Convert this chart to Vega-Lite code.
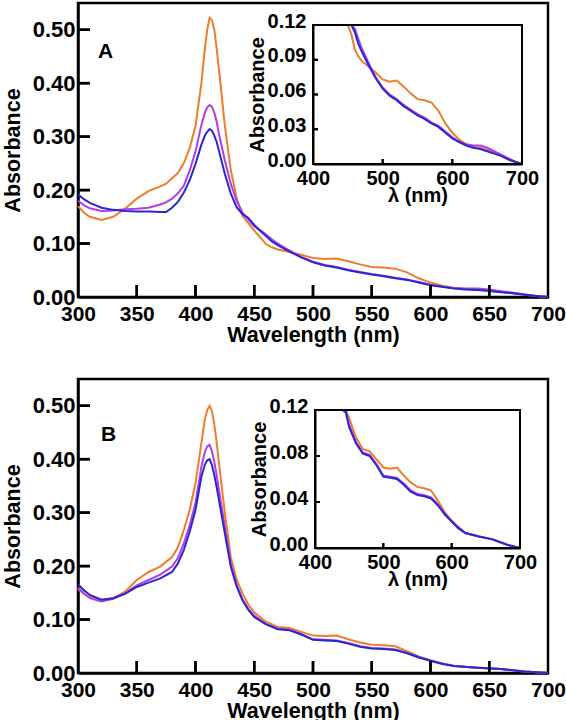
{
"$schema": "https://vega.github.io/schema/vega-lite/v6.json",
"padding": {"left": 0, "top": 1, "right": 0, "bottom": 0},
"bounds": "flush",
"spacing": 82,
"background": "white",
"datasets": {
"xt": [{"v": 350},{"v": 400},{"v": 450},{"v": 500},{"v": 550},{"v": 600},{"v": 650}],
"yt": [{"v": 0.1},{"v": 0.2},{"v": 0.3},{"v": 0.4},{"v": 0.5}],
"ixt": [{"v": 500},{"v": 600}],
"iytA": [{"v": 0.03},{"v": 0.06},{"v": 0.09}],
"iytB": [{"v": 0.04},{"v": 0.08}]
},
"data": {"values": [
{"p":"A","w":300,"o":0.170,"m":0.180,"b":0.192},
{"p":"A","w":305,"o":0.158,"m":0.172,"b":0.183},
{"p":"A","w":310,"o":0.150,"m":0.166,"b":0.176},
{"p":"A","w":320,"o":0.144,"m":0.161,"b":0.167},
{"p":"A","w":330,"o":0.150,"m":0.162,"b":0.163},
{"p":"A","w":340,"o":0.165,"m":0.164,"b":0.161},
{"p":"A","w":350,"o":0.184,"m":0.165,"b":0.160},
{"p":"A","w":360,"o":0.198,"m":0.167,"b":0.160},
{"p":"A","w":370,"o":0.207,"m":0.173,"b":0.159},
{"p":"A","w":375,"o":0.212,"m":0.177,"b":0.159},
{"p":"A","w":380,"o":0.222,"m":0.184,"b":0.167},
{"p":"A","w":385,"o":0.232,"m":0.194,"b":0.178},
{"p":"A","w":390,"o":0.250,"m":0.208,"b":0.195},
{"p":"A","w":395,"o":0.278,"m":0.236,"b":0.218},
{"p":"A","w":400,"o":0.320,"m":0.272,"b":0.249},
{"p":"A","w":405,"o":0.400,"m":0.322,"b":0.285},
{"p":"A","w":408,"o":0.465,"m":0.345,"b":0.302},
{"p":"A","w":410,"o":0.500,"m":0.355,"b":0.309},
{"p":"A","w":412,"o":0.522,"m":0.359,"b":0.314},
{"p":"A","w":414,"o":0.518,"m":0.356,"b":0.311},
{"p":"A","w":416,"o":0.500,"m":0.345,"b":0.302},
{"p":"A","w":418,"o":0.465,"m":0.328,"b":0.290},
{"p":"A","w":420,"o":0.425,"m":0.305,"b":0.273},
{"p":"A","w":425,"o":0.320,"m":0.255,"b":0.230},
{"p":"A","w":430,"o":0.238,"m":0.212,"b":0.194},
{"p":"A","w":435,"o":0.185,"m":0.180,"b":0.168},
{"p":"A","w":440,"o":0.152,"m":0.158,"b":0.155},
{"p":"A","w":445,"o":0.138,"m":0.145,"b":0.148},
{"p":"A","w":450,"o":0.124,"m":0.132,"b":0.135},
{"p":"A","w":455,"o":0.112,"m":0.125,"b":0.124},
{"p":"A","w":460,"o":0.099,"m":0.117,"b":0.114},
{"p":"A","w":465,"o":0.093,"m":0.108,"b":0.104},
{"p":"A","w":470,"o":0.089,"m":0.100,"b":0.097},
{"p":"A","w":480,"o":0.084,"m":0.087,"b":0.085},
{"p":"A","w":490,"o":0.079,"m":0.075,"b":0.074},
{"p":"A","w":500,"o":0.073,"m":0.066,"b":0.065},
{"p":"A","w":510,"o":0.071,"m":0.060,"b":0.059},
{"p":"A","w":520,"o":0.072,"m":0.056,"b":0.055},
{"p":"A","w":530,"o":0.067,"m":0.051,"b":0.050},
{"p":"A","w":540,"o":0.061,"m":0.047,"b":0.046},
{"p":"A","w":550,"o":0.056,"m":0.043,"b":0.042},
{"p":"A","w":560,"o":0.055,"m":0.040,"b":0.039},
{"p":"A","w":570,"o":0.053,"m":0.036,"b":0.035},
{"p":"A","w":580,"o":0.046,"m":0.033,"b":0.032},
{"p":"A","w":590,"o":0.035,"m":0.028,"b":0.027},
{"p":"A","w":600,"o":0.027,"m":0.023,"b":0.022},
{"p":"A","w":610,"o":0.021,"m":0.019,"b":0.019},
{"p":"A","w":620,"o":0.017,"m":0.017,"b":0.016},
{"p":"A","w":630,"o":0.015,"m":0.016,"b":0.014},
{"p":"A","w":640,"o":0.014,"m":0.016,"b":0.013},
{"p":"A","w":650,"o":0.012,"m":0.014,"b":0.011},
{"p":"A","w":660,"o":0.010,"m":0.011,"b":0.009},
{"p":"A","w":670,"o":0.007,"m":0.008,"b":0.007},
{"p":"A","w":680,"o":0.004,"m":0.005,"b":0.004},
{"p":"A","w":690,"o":0.002,"m":0.002,"b":0.002},
{"p":"A","w":700,"o":0.000,"m":0.000,"b":0.000},
{"p":"B","w":300,"o":0.157,"m":0.160,"b":0.166},
{"p":"B","w":305,"o":0.148,"m":0.149,"b":0.155},
{"p":"B","w":310,"o":0.142,"m":0.140,"b":0.146},
{"p":"B","w":320,"o":0.137,"m":0.134,"b":0.137},
{"p":"B","w":330,"o":0.140,"m":0.139,"b":0.140},
{"p":"B","w":340,"o":0.152,"m":0.149,"b":0.148},
{"p":"B","w":350,"o":0.174,"m":0.164,"b":0.161},
{"p":"B","w":360,"o":0.189,"m":0.174,"b":0.169},
{"p":"B","w":370,"o":0.199,"m":0.184,"b":0.177},
{"p":"B","w":380,"o":0.217,"m":0.199,"b":0.189},
{"p":"B","w":385,"o":0.235,"m":0.215,"b":0.205},
{"p":"B","w":390,"o":0.267,"m":0.242,"b":0.230},
{"p":"B","w":395,"o":0.305,"m":0.276,"b":0.264},
{"p":"B","w":400,"o":0.355,"m":0.318,"b":0.305},
{"p":"B","w":405,"o":0.430,"m":0.386,"b":0.367},
{"p":"B","w":408,"o":0.475,"m":0.414,"b":0.390},
{"p":"B","w":410,"o":0.492,"m":0.424,"b":0.398},
{"p":"B","w":412,"o":0.500,"m":0.427,"b":0.400},
{"p":"B","w":414,"o":0.490,"m":0.415,"b":0.389},
{"p":"B","w":416,"o":0.465,"m":0.395,"b":0.370},
{"p":"B","w":418,"o":0.432,"m":0.370,"b":0.348},
{"p":"B","w":420,"o":0.392,"m":0.342,"b":0.323},
{"p":"B","w":425,"o":0.299,"m":0.273,"b":0.261},
{"p":"B","w":430,"o":0.217,"m":0.205,"b":0.199},
{"p":"B","w":435,"o":0.175,"m":0.165,"b":0.162},
{"p":"B","w":440,"o":0.149,"m":0.138,"b":0.136},
{"p":"B","w":445,"o":0.128,"m":0.120,"b":0.118},
{"p":"B","w":450,"o":0.113,"m":0.107,"b":0.105},
{"p":"B","w":460,"o":0.096,"m":0.092,"b":0.091},
{"p":"B","w":470,"o":0.086,"m":0.083,"b":0.082},
{"p":"B","w":480,"o":0.084,"m":0.081,"b":0.080},
{"p":"B","w":490,"o":0.077,"m":0.073,"b":0.072},
{"p":"B","w":500,"o":0.070,"m":0.063,"b":0.062},
{"p":"B","w":510,"o":0.069,"m":0.062,"b":0.061},
{"p":"B","w":520,"o":0.070,"m":0.061,"b":0.060},
{"p":"B","w":530,"o":0.063,"m":0.056,"b":0.055},
{"p":"B","w":540,"o":0.057,"m":0.050,"b":0.049},
{"p":"B","w":550,"o":0.053,"m":0.047,"b":0.046},
{"p":"B","w":560,"o":0.052,"m":0.046,"b":0.045},
{"p":"B","w":570,"o":0.050,"m":0.044,"b":0.043},
{"p":"B","w":580,"o":0.041,"m":0.038,"b":0.037},
{"p":"B","w":590,"o":0.031,"m":0.030,"b":0.029},
{"p":"B","w":600,"o":0.024,"m":0.023,"b":0.023},
{"p":"B","w":610,"o":0.018,"m":0.018,"b":0.017},
{"p":"B","w":620,"o":0.013,"m":0.013,"b":0.013},
{"p":"B","w":640,"o":0.010,"m":0.010,"b":0.010},
{"p":"B","w":660,"o":0.0075,"m":0.0075,"b":0.0075},
{"p":"B","w":680,"o":0.003,"m":0.003,"b":0.003},
{"p":"B","w":700,"o":0.000,"m":0.000,"b":0.000}
]},
"vconcat": [
{
 "width": 470, "height": 294,
 "layer": [
  {"layer": [
   {"transform": [{"filter": "datum.p === 'A'"}, {"fold": ["o","m","b"], "as": ["s","a"]}],
    "mark": {"type": "line", "strokeWidth": 2},
    "encoding": {
     "x": {"field": "w", "type": "quantitative", "scale": {"domain": [300,700], "nice": false, "zero": false, "padding": 0},
           "axis": {"values": [300,350,400,450,500,550,600,650,700], "title": "Wavelength (nm)", "ticks": false, "labelPadding": 6, "domainWidth": 2.5, "titlePadding": 0}},
     "y": {"field": "a", "type": "quantitative", "scale": {"domain": [0,0.55], "nice": false, "zero": false, "padding": 0},
           "axis": {"values": [0,0.1,0.2,0.3,0.4,0.5], "format": ".2f", "title": "Absorbance", "ticks": false, "labelPadding": 3, "labelFontSize": 22, "domainWidth": 2.5, "titlePadding": 8}},
     "color": {"field": "s", "type": "nominal", "scale": {"domain": ["o","m","b"], "range": ["#F07D2C","#B43CE6","#2828D2"]}, "legend": null}
    }},
   {"data": {"name": "xt"},
    "mark": {"type": "tick", "orient": "vertical", "size": 12, "thickness": 2.5, "color": "black", "opacity": 1},
    "encoding": {"x": {"field": "v", "type": "quantitative"}, "y": {"datum": 0.01125, "type": "quantitative"}}},
   {"data": {"name": "xt"},
    "mark": {"type": "rule", "strokeWidth": 2.5, "color": "black"},
    "encoding": {"x": {"field": "v", "type": "quantitative"}, "y": {"datum": 0.0002, "type": "quantitative"}, "y2": {"datum": 0.0225}}},
   {"data": {"name": "yt"},
    "mark": {"type": "tick", "orient": "horizontal", "size": 12, "thickness": 2.5, "color": "black", "opacity": 1},
    "encoding": {"y": {"field": "v", "type": "quantitative"}, "x": {"datum": 305.1, "type": "quantitative"}}},
   {"data": {"name": "yt"},
    "mark": {"type": "rule", "strokeWidth": 2.5, "color": "black"},
    "encoding": {"y": {"field": "v", "type": "quantitative"}, "x": {"datum": 300.05, "type": "quantitative"}, "x2": {"datum": 310.2}}},
   {"data": {"values": [{"t": "A"}]},
    "mark": {"type": "text", "fontSize": 21, "fontWeight": "bold", "align": "left", "baseline": "alphabetic", "color": "black"},
    "encoding": {
     "x": {"datum": 317, "type": "quantitative"},
     "y": {"datum": 0.4476, "type": "quantitative"},
     "text": {"field": "t"}}}
  ]},
  {"layer": [
   {"transform": [{"filter": "datum.p === 'A' && datum.w >= 440"}, {"fold": ["o","m","b"], "as": ["s","a"]}],
    "mark": {"type": "line", "strokeWidth": 2},
    "encoding": {
     "x": {"field": "w", "type": "quantitative", "scale": {"domain": [400,700], "range": [235,444], "nice": false, "zero": false, "padding": 0},
           "axis": {"orient": "bottom", "offset": -133, "values": [400,500,600,700], "title": "λ (nm)", "ticks": false, "labelPadding": 4, "domainWidth": 2, "titlePadding": -3, "labelFontSize": 20, "titleFontSize": 20}},
     "y": {"field": "a", "type": "quantitative", "scale": {"domain": [0,0.12], "range": [161,22], "nice": false, "zero": false, "clamp": true, "padding": 0},
           "axis": {"orient": "left", "offset": -235, "values": [0,0.03,0.06,0.09,0.12], "format": ".2f", "title": "Absorbance", "ticks": false, "labelPadding": 7, "labelOffset": -4, "domainWidth": 2, "titlePadding": 0, "labelFontSize": 20, "titleFontSize": 20}},
     "color": {"field": "s", "type": "nominal", "scale": {"domain": ["o","m","b"], "range": ["#F07D2C","#B43CE6","#2828D2"]}, "legend": null}
    }},
   {"data": {"values": [{"x1": 400, "x2": 700, "y1": 0, "y2": 0.12}]},
    "mark": {"type": "rect", "fillOpacity": 0, "stroke": "black", "strokeWidth": 2},
    "encoding": {
     "x": {"field": "x1", "type": "quantitative"},
     "x2": {"field": "x2"},
     "y": {"field": "y1", "type": "quantitative"},
     "y2": {"field": "y2"}}},
   {"data": {"name": "iytA"},
    "mark": {"type": "tick", "orient": "horizontal", "size": 5, "thickness": 2, "color": "black", "opacity": 1},
    "encoding": {"y": {"field": "v", "type": "quantitative"}, "x": {"datum": 403.6, "type": "quantitative"}}},
   {"data": {"name": "iytA"},
    "mark": {"type": "rule", "strokeWidth": 2, "color": "black"},
    "encoding": {"y": {"field": "v", "type": "quantitative"}, "x": {"datum": 400.05, "type": "quantitative"}, "x2": {"datum": 407.2}}},
   {"data": {"name": "ixt"},
    "mark": {"type": "tick", "orient": "vertical", "size": 5, "thickness": 2, "color": "black", "opacity": 1},
    "encoding": {"x": {"field": "v", "type": "quantitative"}, "y": {"datum": 0.00216, "type": "quantitative"}}},
   {"data": {"name": "ixt"},
    "mark": {"type": "rule", "strokeWidth": 2, "color": "black"},
    "encoding": {"x": {"field": "v", "type": "quantitative"}, "y": {"datum": 0.0001, "type": "quantitative"}, "y2": {"datum": 0.0043}}}
  ]}
 ],
 "resolve": {"scale": {"x": "independent", "y": "independent"}}
},
{
 "width": 470, "height": 294,
 "layer": [
  {"layer": [
   {"transform": [{"filter": "datum.p === 'B'"}, {"fold": ["o","m","b"], "as": ["s","a"]}],
    "mark": {"type": "line", "strokeWidth": 2},
    "encoding": {
     "x": {"field": "w", "type": "quantitative", "scale": {"domain": [300,700], "nice": false, "zero": false, "padding": 0},
           "axis": {"values": [300,350,400,450,500,550,600,650,700], "title": "Wavelength (nm)", "ticks": false, "labelPadding": 6, "domainWidth": 2.5, "titlePadding": 0}},
     "y": {"field": "a", "type": "quantitative", "scale": {"domain": [0,0.55], "nice": false, "zero": false, "padding": 0},
           "axis": {"values": [0,0.1,0.2,0.3,0.4,0.5], "format": ".2f", "title": "Absorbance", "ticks": false, "labelPadding": 3, "labelFontSize": 22, "domainWidth": 2.5, "titlePadding": 8}},
     "color": {"field": "s", "type": "nominal", "scale": {"domain": ["o","m","b"], "range": ["#F07D2C","#B43CE6","#2828D2"]}, "legend": null}
    }},
   {"data": {"name": "xt"},
    "mark": {"type": "tick", "orient": "vertical", "size": 12, "thickness": 2.5, "color": "black", "opacity": 1},
    "encoding": {"x": {"field": "v", "type": "quantitative"}, "y": {"datum": 0.01125, "type": "quantitative"}}},
   {"data": {"name": "xt"},
    "mark": {"type": "rule", "strokeWidth": 2.5, "color": "black"},
    "encoding": {"x": {"field": "v", "type": "quantitative"}, "y": {"datum": 0.0002, "type": "quantitative"}, "y2": {"datum": 0.0225}}},
   {"data": {"name": "yt"},
    "mark": {"type": "tick", "orient": "horizontal", "size": 12, "thickness": 2.5, "color": "black", "opacity": 1},
    "encoding": {"y": {"field": "v", "type": "quantitative"}, "x": {"datum": 305.1, "type": "quantitative"}}},
   {"data": {"name": "yt"},
    "mark": {"type": "rule", "strokeWidth": 2.5, "color": "black"},
    "encoding": {"y": {"field": "v", "type": "quantitative"}, "x": {"datum": 300.05, "type": "quantitative"}, "x2": {"datum": 310.2}}},
   {"data": {"values": [{"t": "B"}]},
    "mark": {"type": "text", "fontSize": 21, "fontWeight": "bold", "align": "left", "baseline": "alphabetic", "color": "black"},
    "encoding": {
     "x": {"datum": 319.5, "type": "quantitative"},
     "y": {"datum": 0.434, "type": "quantitative"},
     "text": {"field": "t"}}}
  ]},
  {"layer": [
   {"transform": [{"filter": "datum.p === 'B' && datum.w >= 440"}, {"fold": ["o","m","b"], "as": ["s","a"]}],
    "mark": {"type": "line", "strokeWidth": 2},
    "encoding": {
     "x": {"field": "w", "type": "quantitative", "scale": {"domain": [400,700], "range": [237,442], "nice": false, "zero": false, "padding": 0},
           "axis": {"orient": "bottom", "offset": -125, "values": [400,500,600,700], "title": "λ (nm)", "ticks": false, "labelPadding": 4, "domainWidth": 2, "titlePadding": -3, "labelFontSize": 20, "titleFontSize": 20}},
     "y": {"field": "a", "type": "quantitative", "scale": {"domain": [0,0.12], "range": [169,31], "nice": false, "zero": false, "clamp": true, "padding": 0},
           "axis": {"orient": "left", "offset": -237, "values": [0,0.04,0.08,0.12], "format": ".2f", "title": "Absorbance", "ticks": false, "labelPadding": 7, "labelOffset": -4, "domainWidth": 2, "titlePadding": 0, "labelFontSize": 20, "titleFontSize": 20}},
     "color": {"field": "s", "type": "nominal", "scale": {"domain": ["o","m","b"], "range": ["#F07D2C","#B43CE6","#2828D2"]}, "legend": null}
    }},
   {"data": {"values": [{"x1": 400, "x2": 700, "y1": 0, "y2": 0.12}]},
    "mark": {"type": "rect", "fillOpacity": 0, "stroke": "black", "strokeWidth": 2},
    "encoding": {
     "x": {"field": "x1", "type": "quantitative"},
     "x2": {"field": "x2"},
     "y": {"field": "y1", "type": "quantitative"},
     "y2": {"field": "y2"}}},
   {"data": {"name": "iytB"},
    "mark": {"type": "tick", "orient": "horizontal", "size": 5, "thickness": 2, "color": "black", "opacity": 1},
    "encoding": {"y": {"field": "v", "type": "quantitative"}, "x": {"datum": 403.7, "type": "quantitative"}}},
   {"data": {"name": "iytB"},
    "mark": {"type": "rule", "strokeWidth": 2, "color": "black"},
    "encoding": {"y": {"field": "v", "type": "quantitative"}, "x": {"datum": 400.05, "type": "quantitative"}, "x2": {"datum": 407.3}}},
   {"data": {"name": "ixt"},
    "mark": {"type": "tick", "orient": "vertical", "size": 5, "thickness": 2, "color": "black", "opacity": 1},
    "encoding": {"x": {"field": "v", "type": "quantitative"}, "y": {"datum": 0.00217, "type": "quantitative"}}},
   {"data": {"name": "ixt"},
    "mark": {"type": "rule", "strokeWidth": 2, "color": "black"},
    "encoding": {"x": {"field": "v", "type": "quantitative"}, "y": {"datum": 0.0001, "type": "quantitative"}, "y2": {"datum": 0.0043}}}
  ]}
 ],
 "resolve": {"scale": {"x": "independent", "y": "independent"}}
}
],
"config": {
 "font": "Liberation Sans",
 "view": {"stroke": "black", "strokeWidth": 2.5},
 "axis": {"grid": false, "labelFlush": false, "labelOverlap": false, "labelFont": "Liberation Sans", "titleFont": "Liberation Sans", "labelFontWeight": "bold", "titleFontWeight": "bold", "labelColor": "black", "titleColor": "black", "domainColor": "black", "tickColor": "black", "labelFontSize": 21, "titleFontSize": 21.5}
}
}
